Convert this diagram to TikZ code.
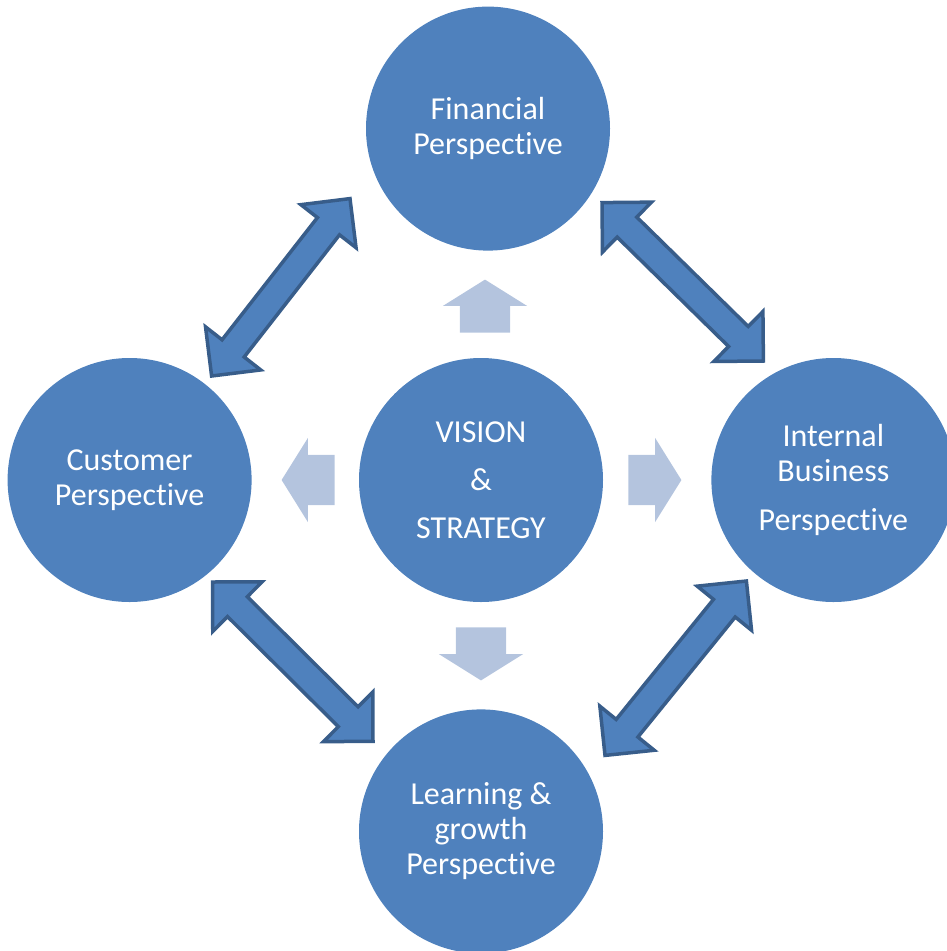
\documentclass[tikz,border=0pt]{standalone}
\usepackage{fontspec}
\setmainfont{Carlito}[Ligatures=NoCommon]
\usepackage{tikz}
\usetikzlibrary{shapes.arrows, positioning, calc}

\definecolor{perspblue}{HTML}{4F81BD}
\definecolor{perspline}{HTML}{385D8A}
\definecolor{flowblue}{HTML}{B4C4DE}

% double-headed block arrow between two tip points
\newcommand{\twoway}[2]{%
  \draw[linkarrow] (#1)
    -- ($(#1)!35pt!(#2)!35pt!90:(#2)$) -- ($(#1)!35pt!(#2)!14pt!90:(#2)$)
    -- ($(#2)!35pt!(#1)!14pt!-90:(#1)$) -- ($(#2)!35pt!(#1)!35pt!-90:(#1)$)
    -- (#2)
    -- ($(#2)!35pt!(#1)!35pt!90:(#1)$) -- ($(#2)!35pt!(#1)!14pt!90:(#1)$)
    -- ($(#1)!35pt!(#2)!14pt!-90:(#2)$) -- ($(#1)!35pt!(#2)!35pt!-90:(#2)$)
    -- cycle;}

\begin{document}
\begin{tikzpicture}[
  x=1pt, y=-1pt,
  node distance=107pt,
  persp/.style={circle, fill=perspblue, minimum size=244pt, inner sep=0pt, text=white, align=center, font=\fontsize{32}{35}\selectfont},
  linkarrow/.style={fill=perspblue, draw=perspline, line width=3.5pt, line join=miter},
  flowarrow/.style={single arrow, fill=flowblue, anchor=tail, inner xsep=0pt, inner ysep=25pt, minimum height=53pt, single arrow head extend=17pt, single arrow tip angle=116}
]
\useasboundingbox (0,0) rectangle (946,951);

\node (vision) [persp] at (481,480) {VISION\\[13pt]\&\\[13pt]STRATEGY};
\node (fin) [persp, above=of vision, xshift=7pt] {Financial\\Perspective};
\node (cust) [persp, left=of vision] {Customer\\Perspective};
\node (int) [persp, right=of vision, xshift=1pt] {Internal\\Business\\[14pt]Perspective};
\node (learn) [persp, below=of vision] {Learning \&\\growth\\Perspective};

% light arrows out of the centre
\node (toFin) [flowarrow, rotate=90] at ($(vision.north)+(4,-25)$) {};
\node (toCust) [flowarrow, rotate=180] at ($(vision.west)+(-24,0)$) {};
\node (toInt) [flowarrow] at ($(vision.east)+(25,0)$) {};
\node (toLearn) [flowarrow, rotate=-90] at ($(vision.south)+(0,25)$) {};

% tips of the links between the perspectives
\coordinate (a1) at ($(cust)+(82,-104)$);
\coordinate (a2) at ($(fin)+(-138,70)$);
\coordinate (b1) at ($(fin)+(114,74)$);
\coordinate (b2) at ($(int)+(-70,-119)$);
\coordinate (c1) at ($(cust)+(83,102)$);
\coordinate (c2) at ($(learn)+(-108,-90)$);
\coordinate (d1) at ($(int)+(-87,101)$);
\coordinate (d2) at ($(learn)+(124,-76)$);

\twoway{a1}{a2}
\twoway{b1}{b2}
\twoway{c1}{c2}
\twoway{d1}{d2}
\end{tikzpicture}
\end{document}
